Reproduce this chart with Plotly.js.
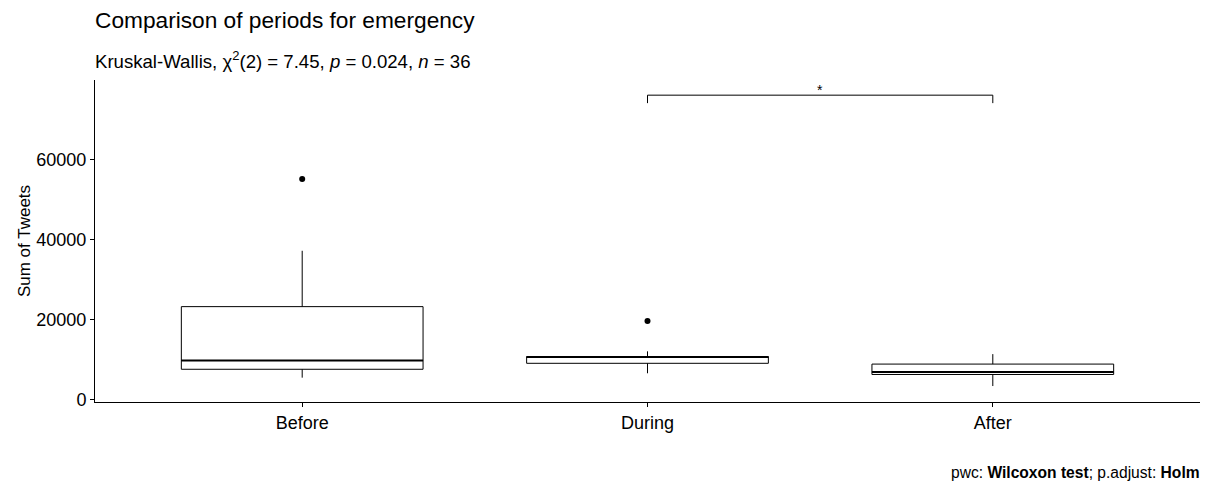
<!DOCTYPE html>
<html><head><meta charset="utf-8">
<script src="https://cdn.plot.ly/plotly-3.0.1.min.js"></script>
<style>body{margin:0;background:#fff}</style>
</head><body><div id="chart" style="width:1215px;height:484px"></div>
<script>
const categories = ["Before", "During", "After"];
const q1 = [7500, 9000, 6200];
const medians = [9700, 10600, 6800];
const q3 = [23200, 10700, 8800];
const lowerWhisker = [5400, 6500, 3300];
const upperWhisker = [37200, 12000, 11300];
const outlierGroups = ["Before", "During"];
const outlierValues = [55200, 19600];
const bracketFrom = 1, bracketTo = 2;
const bracketY = 76200;
const bracketTip = 74200;
const bracketLabel = "*";
const yTicks = [0, 20000, 40000, 60000];

const boxWidth = 0.7;
const FONT = "Liberation Sans, Arial, sans-serif";

const traces = [
  {
    type: "box",
    x: categories,
    q1: q1, median: medians, q3: q3,
    lowerfence: lowerWhisker, upperfence: upperWhisker,
    width: boxWidth,
    whiskerwidth: 0,
    fillcolor: "rgba(255,255,255,0)",
    line: {color: "#000", width: 1},
    boxpoints: false,
    hoverinfo: "skip",
    showlegend: false
  },
  {
    type: "scatter", mode: "markers",
    x: outlierGroups, y: outlierValues,
    marker: {color: "#000", size: 6},
    showlegend: false, hoverinfo: "skip"
  }
];

const shapes = medians.map((m, i) => ({
  type: "line", xref: "x", yref: "y",
  x0: i - boxWidth / 2, x1: i + boxWidth / 2, y0: m, y1: m,
  line: {color: "#000", width: 2}
}));
shapes.push(
  {type: "line", xref: "x", yref: "y", x0: bracketFrom, x1: bracketTo, y0: bracketY, y1: bracketY, line: {color: "#000", width: 1}},
  {type: "line", xref: "x", yref: "y", x0: bracketFrom, x1: bracketFrom, y0: bracketTip, y1: bracketY, line: {color: "#000", width: 1}},
  {type: "line", xref: "x", yref: "y", x0: bracketTo, x1: bracketTo, y0: bracketTip, y1: bracketY, line: {color: "#000", width: 1}}
);

const layout = {
  width: 1215, height: 484,
  margin: {l: 95, r: 15, t: 80, b: 82},
  paper_bgcolor: "#fff", plot_bgcolor: "#fff",
  font: {family: FONT, color: "#000", size: 18},
  title: {
    text: "Comparison of periods for emergency",
    x: 95 / 1215, xanchor: "left", xref: "container",
    y: 1 - 20 / 484, yanchor: "middle", yref: "container",
    font: {family: FONT, size: 22.7, color: "#000"}
  },
  xaxis: {
    type: "category",
    range: [-0.6, 2.6],
    showline: true, linecolor: "#000", linewidth: 1,
    ticks: "outside", ticklen: 4, tickcolor: "#000",
    showgrid: false, zeroline: false,
    tickfont: {family: FONT, size: 18, color: "#000"}
  },
  yaxis: {
    range: [-700, 80000],
    tickvals: yTicks, ticktext: yTicks.map(String),
    showline: true, linecolor: "#000", linewidth: 1,
    ticks: "outside", ticklen: 4, tickcolor: "#000",
    showgrid: false, zeroline: false,
    tickfont: {family: FONT, size: 18, color: "#000"},
    title: {text: "Sum of Tweets", font: {family: FONT, size: 17, color: "#000"}, standoff: 1}
  },
  shapes: shapes,
  annotations: [
    {
      xref: "paper", yref: "paper", x: 0, y: 1 + 20 / 322, xshift: -2,
      xanchor: "left", yanchor: "middle",
      text: "Kruskal-Wallis, χ<sup>2</sup>(2) = 7.45, <i>p</i> = 0.024, <i>n</i> = 36",
      showarrow: false, font: {family: FONT, size: 18.6, color: "#000"}
    },
    {
      xref: "x", yref: "y", x: (bracketFrom + bracketTo) / 2, y: bracketY,
      yanchor: "bottom", text: bracketLabel, showarrow: false, yshift: -5,
      font: {family: FONT, size: 14, color: "#000"}
    },
    {
      xref: "paper", yref: "paper", x: 1, y: -70 / 322, xshift: 2,
      xanchor: "right", yanchor: "middle",
      text: "pwc: <b>Wilcoxon test</b>; p.adjust: <b>Holm</b>",
      showarrow: false, font: {family: FONT, size: 15.6, color: "#000"}
    }
  ]
};

Plotly.newPlot("chart", traces, layout, {displayModeBar: false, staticPlot: true});
</script>
</body></html>
